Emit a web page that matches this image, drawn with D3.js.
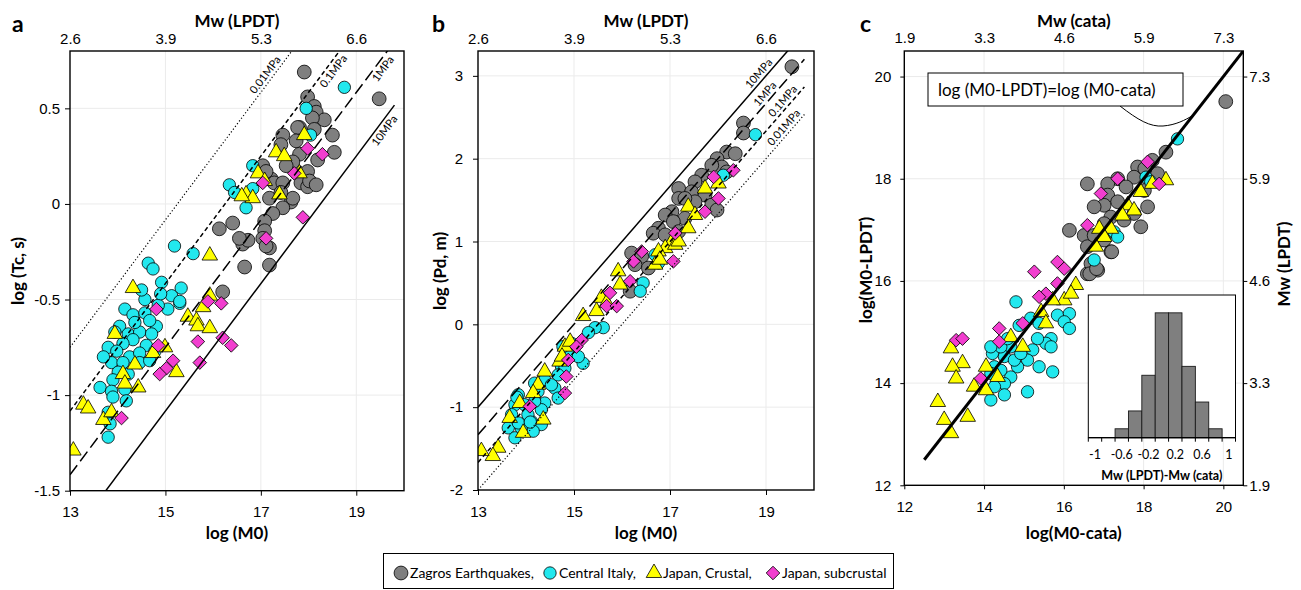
<!DOCTYPE html>
<html>
<head>
<meta charset="utf-8">
<script src="https://cdn.jsdelivr.net/npm/d3@7"></script>
<style>
  body { margin: 0; background: #fff; }
  svg { font-family: Lato, "Open Sans", sans-serif; }
  .tick text { font-size: 15px; fill: #000; }
  .tick line { stroke: #000; stroke-width: 1; }
  .grid { stroke: #ebebeb; stroke-width: 1; }
  .title { font-size: 17px; font-weight: bold; }
  .letter { font-size: 23px; font-weight: bold; }
  .stress { font-size: 11px; }
</style>
</head>
<body>
<div class="chart"></div>
<script>

// ---------------- values ----------------
var massTicks = [13, 15, 17, 19];
var mwTicksAB = ["2.6", "3.9", "5.3", "6.6"];
var tcTicks = [-1.5, -1, -0.5, 0, 0.5];
var pdTicks = [-2, -1, 0, 1, 2, 3];
var cTicks = [12, 14, 16, 18, 20];
var mwTicksC = ["1.9", "3.3", "4.6", "5.9", "7.3"];

// constant stress-drop lines, value at log M0 = 13
var stressLabels = ["0.01MPa", "0.1MPa", "1MPa", "10MPa"];
var tcIntercepts = [-0.75, -1.083, -1.417, -1.75];
var pdIntercepts = [-2, -1.667, -1.333, -1];

// panel a : log(M0) vs log(Tc)
var zagrosA = [[17.91,0.69],[19.48,0.55],[17.98,0.56],[18.12,0.51],[18.16,0.48],[18.33,0.44],[18.50,0.36],[18.08,0.45],[17.81,0.40],[18.12,0.39],[17.77,0.40],[17.46,0.36],[17.42,0.31],[17.74,0.33],[18.54,0.27],[18.19,0.23],[17.81,0.26],[17.67,0.22],[17.53,0.20],[17.98,0.17],[17.84,0.11],[17.98,0.09],[18.02,0.12],[18.16,0.10],[17.63,0.01],[17.67,0.03],[17.46,-0.02],[17.25,-0.05],[17.08,-0.09],[17.08,-0.14],[17.18,0.03],[17.22,0.13],[17.28,0.11],[17.46,0.11],[17.42,0.06],[17.04,0.20],[17.11,0.17],[17.04,-0.18],[17.18,-0.23],[17.11,-0.22],[17.18,-0.32],[16.66,-0.33],[16.62,-0.21],[16.73,-0.19],[16.55,-0.18],[16.41,-0.10],[16.13,-0.13],[16.20,-0.46]];
var italyA = [[18.75,0.61],[17.95,0.50],[18.04,0.36],[16.83,0.20],[16.34,0.10],[16.45,0.06],[16.69,-0.02],[16.83,0.08],[15.58,-0.26],[15.19,-0.22],[14.64,-0.31],[14.74,-0.34],[14.92,-0.41],[15.33,-0.44],[15.13,-0.48],[15.30,-0.52],[15.05,-0.55],[14.85,-0.53],[14.57,-0.50],[14.15,-0.55],[14.32,-0.58],[14.57,-0.57],[14.81,-0.64],[14.67,-0.61],[14.04,-0.64],[13.94,-0.67],[14.22,-0.68],[14.46,-0.67],[14.71,-0.68],[14.32,-0.71],[14.11,-0.73],[14.60,-0.74],[13.80,-0.75],[13.98,-0.77],[14.25,-0.80],[14.46,-0.78],[14.78,-0.77],[13.87,-0.83],[14.11,-0.83],[14.46,-0.83],[14.67,-0.82],[14.01,-0.88],[14.22,-0.89],[13.90,-0.92],[13.63,-0.96],[13.87,-0.98],[14.15,-0.97],[13.90,-1.01],[14.18,-1.03],[13.80,-1.09],[13.84,-1.15],[13.80,-1.22],[15.30,-0.51],[14.36,-0.62],[14.50,-0.45],[14.90,-0.47],[13.70,-0.80]];
var crustalA = [[17.91,0.36],[17.32,0.27],[17.49,0.25],[16.94,0.16],[17.08,0.12],[16.69,0.05],[16.83,0.03],[16.60,0.04],[17.39,0.05],[17.81,0.16],[15.93,-0.27],[14.32,-0.44],[15.93,-0.48],[15.47,-0.59],[15.65,-0.61],[15.68,-0.64],[15.93,-0.65],[15.79,-0.54],[13.94,-0.68],[14.99,-0.75],[14.74,-0.78],[14.36,-0.84],[14.11,-0.89],[14.15,-0.94],[14.43,-0.96],[15.23,-0.88],[13.28,-1.05],[13.38,-1.07],[13.70,-1.13],[13.87,-1.09],[13.07,-1.29]];
var subcrustalA = [[17.98,0.29],[18.29,0.26],[17.70,0.16],[17.04,0.11],[17.88,-0.07],[17.11,-0.18],[15.89,-0.51],[16.17,-0.52],[14.81,-0.55],[14.85,-0.74],[15.68,-0.72],[16.20,-0.70],[16.38,-0.74],[15.72,-0.83],[15.16,-0.82],[15.02,-0.86],[14.88,-0.89],[14.08,-1.12]];

// panel b : log(M0) vs log(Pd)
var zagrosB = [[19.54,3.11],[18.53,2.43],[18.53,2.31],[18.18,2.08],[18.36,2.06],[17.98,2.00],[18.08,1.90],[17.87,1.92],[17.66,1.80],[18.18,1.84],[17.52,1.72],[17.18,1.64],[17.45,1.60],[17.73,1.56],[17.87,1.44],[17.98,1.38],[17.52,1.48],[17.18,1.52],[17.31,1.52],[17.04,1.36],[16.90,1.32],[17.31,1.28],[17.07,1.24],[16.76,1.16],[16.65,1.10],[16.90,1.08],[17.18,1.12],[16.20,0.86],[16.41,0.82],[16.27,0.72],[16.55,0.68],[16.17,0.40]];
var italyB = [[18.78,2.29],[18.11,1.80],[16.69,0.84],[16.76,0.74],[16.44,0.50],[16.38,0.40],[15.61,-0.04],[15.44,-0.04],[15.30,-0.10],[15.19,-0.47],[14.95,-0.23],[14.88,-0.35],[14.74,-0.51],[14.77,-0.27],[15.09,-0.39],[14.39,-0.67],[14.18,-0.71],[14.25,-0.81],[14.60,-0.77],[14.67,-0.89],[13.84,-0.85],[13.77,-0.97],[13.97,-0.97],[14.39,-0.95],[13.70,-1.09],[13.63,-1.25],[13.77,-1.37],[13.90,-1.25],[14.11,-1.17],[14.32,-1.21],[14.04,-1.09],[14.53,-0.73],[14.81,-0.53],[14.67,-0.61],[14.32,-1.03],[14.15,-1.29],[13.84,-1.19],[14.18,-0.93],[13.81,-0.88],[14.09,-1.18]];
var crustalB = [[17.73,1.64],[17.38,1.42],[17.52,1.32],[18.01,1.70],[17.38,1.16],[17.04,1.00],[16.90,0.92],[16.76,0.88],[16.69,0.72],[16.79,0.78],[17.11,0.96],[17.18,1.00],[15.92,0.64],[15.96,0.48],[15.57,0.32],[15.47,0.16],[15.19,0.10],[15.68,0.26],[14.81,-0.27],[14.70,-0.45],[14.39,-0.57],[14.25,-0.73],[14.15,-0.83],[13.87,-0.95],[13.66,-1.13],[14.36,-1.15],[13.94,-1.31],[13.42,-1.49],[13.31,-1.59],[13.07,-1.53],[14.92,-0.21],[14.75,-0.39]];
var subcrustalB = [[18.32,1.86],[17.91,1.78],[18.01,1.52],[17.73,1.36],[17.11,1.10],[17.07,0.76],[16.41,0.88],[16.24,0.76],[16.17,0.52],[15.75,0.38],[15.68,0.22],[15.89,0.22],[15.16,-0.19],[15.05,-0.27],[14.88,-0.43],[14.84,-0.63],[14.81,-0.83],[14.08,-0.99]];

// panel c : log(M0-cata) vs log(M0-LPDT)
var zagrosC = [[18.56,18.52],[18.22,18.36],[17.85,18.23],[18.10,18.17],[18.35,18.10],[17.76,18.03],[17.35,18.00],[16.59,17.90],[17.10,17.90],[17.56,17.84],[18.02,17.77],[17.10,17.68],[17.35,17.55],[17.01,17.48],[16.76,17.45],[18.10,17.45],[17.76,17.32],[17.93,17.06],[17.51,17.19],[17.18,17.25],[16.14,16.99],[16.51,16.89],[16.59,16.67],[17.01,16.80],[17.18,16.57],[16.59,16.14],[16.85,16.21],[16.68,16.34],[17.01,17.12],[16.76,16.89],[20.06,19.51],[18.03,18.20],[16.65,16.14],[16.82,16.24],[17.20,16.57]];
var italyC = [[18.85,18.78],[18.06,18.03],[18.18,17.94],[17.26,16.96],[17.35,16.86],[16.76,16.41],[14.80,15.59],[15.17,15.27],[15.38,15.17],[15.84,15.33],[16.14,15.36],[16.01,15.20],[16.14,15.07],[15.68,14.87],[15.55,14.78],[15.68,14.71],[15.34,14.87],[15.22,14.65],[15.09,14.45],[15.38,14.32],[15.72,14.22],[14.84,14.32],[14.67,14.12],[14.51,13.99],[14.26,13.93],[14.17,13.67],[14.51,13.77],[15.09,13.83],[14.21,14.58],[14.26,14.32],[14.51,14.52],[14.76,14.45],[14.92,14.58],[14.67,14.71],[14.42,14.71],[14.17,14.71],[14.42,14.25],[14.59,14.87],[14.88,15.13],[14.17,14.19]];
var crustalC = [[18.56,17.97],[18.22,17.90],[17.93,17.74],[17.60,17.48],[17.76,17.38],[17.47,17.28],[17.18,17.02],[16.89,17.02],[17.01,16.86],[16.80,16.67],[16.30,15.92],[16.01,15.62],[15.72,15.62],[15.43,15.39],[15.55,15.17],[14.97,14.71],[14.67,14.90],[14.05,14.32],[14.34,14.12],[13.75,13.93],[14.05,13.86],[13.17,14.68],[13.46,14.39],[13.21,14.32],[13.30,14.09],[12.84,13.63],[13.00,13.28],[13.59,13.34],[13.17,13.02],[16.18,15.75]];
var subcrustalC = [[18.10,18.33],[17.35,18.00],[18.39,17.90],[16.93,17.71],[16.59,17.09],[15.26,16.18],[15.84,16.37],[16.01,16.24],[15.84,15.95],[15.55,15.75],[15.38,15.69],[14.97,15.17],[14.38,15.07],[14.38,14.81],[13.30,14.84],[13.46,14.87],[13.92,14.09]];

// inset histogram of Mw(LPDT) - Mw(cata)
var histBins = ["-1", "-0.8", "-0.6", "-0.4", "-0.2", "0", "0.2", "0.4", "0.6", "0.8", "1"];
var histCounts = [0, 0, 1, 3, 7, 14, 14, 8, 4, 1, 0];

var seriesNames = ["Zagros Earthquakes,", "Central Italy,", "Japan, Crustal,", "Japan, subcrustal"];

// ---------------- styles ----------------
var seriesStyle = [
  { symbol: d3.symbolCircle, size: 150, fill: "#7f7f7f", rotate: 0 },
  { symbol: d3.symbolCircle, size: 120, fill: "#22e8ee", rotate: 0 },
  { symbol: d3.symbolTriangle, size: 105, fill: "#ffff00", rotate: 0 },
  { symbol: d3.symbolSquare, size: 92, fill: "#f23ecf", rotate: 45 }
];
var stressDash = ["1.2,2.2", "4.5,3", "12,5", null];

var svg = d3.select(".chart").append("svg")
  .attr("width", 1301)
  .attr("height", 590);

// draws the four marker series in the given scales
function plotSeries(g, series, x, y) {
  series.forEach(function(data, i) {
    var st = seriesStyle[i];
    g.append("g").selectAll("path")
      .data(data)
      .enter()
      .append("path")
      .attr("d", d3.symbol(st.symbol, st.size))
      .attr("transform", d => `translate(${x(d[0])},${y(d[1])}) rotate(${st.rotate})`)
      .attr("fill", st.fill)
      .attr("stroke", "#000")
      .attr("stroke-width", 0.8);
  });
}

function addGrid(g, x, y, xs, ys, box) {
  g.append("g").selectAll("line").data(xs).enter().append("line")
    .attr("class", "grid")
    .attr("x1", d => x(d)).attr("x2", d => x(d))
    .attr("y1", box.top).attr("y2", box.bottom);
  g.append("g").selectAll("line").data(ys).enter().append("line")
    .attr("class", "grid")
    .attr("x1", box.left).attr("x2", box.right)
    .attr("y1", d => y(d)).attr("y2", d => y(d));
}

function addClip(id, box) {
  svg.append("clipPath").attr("id", id)
    .append("rect")
    .attr("x", box.left).attr("y", box.top)
    .attr("width", box.right - box.left).attr("height", box.bottom - box.top);
}

// panels a and b share the same layout
function drawStressPanel(p) {
  var box = p.box;
  var x = d3.scaleLinear().domain([13, 20]).range([box.left, box.right]);
  var y = d3.scaleLinear().domain(p.yDomain).range([box.bottom, box.top]);
  var g = svg.append("g");

  addGrid(g, x, y, [15, 17, 19], p.yTicks.slice(1), box);

  // bottom axis
  g.append("g")
    .attr("transform", `translate(0, ${box.bottom})`)
    .call(d3.axisBottom(x).tickValues(massTicks).tickSize(5).tickPadding(11).tickFormat(d3.format("d")))
    .call(a => a.select(".domain").remove());

  // left axis
  g.append("g")
    .attr("transform", `translate(${box.left}, 0)`)
    .call(d3.axisLeft(y).tickValues(p.yTicks).tickSize(5).tickPadding(p.yPad).tickFormat(d => d))
    .call(a => a.select(".domain").remove());

  // top axis (Mw)
  g.append("g")
    .attr("transform", `translate(0, ${box.top})`)
    .call(d3.axisTop(x).tickValues(massTicks).tickSize(0).tickPadding(7).tickFormat((d, i) => mwTicksAB[i]))
    .call(a => a.select(".domain").remove());

  addClip(p.id, box);
  var inner = g.append("g").attr("clip-path", `url(#${p.id})`);
  plotSeries(inner, p.series, x, y);

  // stress drop lines
  var lineGen = d3.line().x(d => x(d[0])).y(d => y(d[1]));
  p.intercepts.forEach(function(b, i) {
    var pts = [[13, b], [19.8, b + p.slope * (19.8 - 13)]];
    inner.append("path")
      .attr("d", lineGen(pts))
      .attr("fill", "none")
      .attr("stroke", "#000")
      .attr("stroke-width", i === 0 ? 1.2 : 1.5)
      .attr("stroke-dasharray", stressDash[i]);

    var lx = p.labelX[i];
    var ly = b + p.slope * (lx - 13);
    var ang = Math.atan2(y(ly + p.slope) - y(ly), x(lx + 1) - x(lx)) * 180 / Math.PI;
    g.append("text")
      .attr("class", "stress")
      .attr("transform", `translate(${x(lx)}, ${y(ly)}) rotate(${ang})`)
      .attr("text-anchor", "middle")
      .attr("dy", p.labelSide[i] === "above" ? "-0.3em" : "1em")
      .text(stressLabels[i]);
  });

  // frame
  g.append("rect")
    .attr("x", box.left).attr("y", box.top)
    .attr("width", box.right - box.left).attr("height", box.bottom - box.top)
    .attr("fill", "none").attr("stroke", "#000").attr("stroke-width", 1.4);

  var cx = (box.left + box.right) / 2;
  g.append("text").attr("class", "title").attr("x", cx).attr("y", 27)
    .attr("text-anchor", "middle").text("Mw (LPDT)");
  g.append("text").attr("class", "title").attr("x", cx).attr("y", 539)
    .attr("text-anchor", "middle").text("log (M0)");
  g.append("text").attr("class", "title")
    .attr("transform", `translate(${p.yTitleX}, 271) rotate(-90)`)
    .attr("text-anchor", "middle").text(p.yTitle);
  g.append("text").attr("class", "letter").attr("x", p.letterX).attr("y", 32).text(p.letter);
}

drawStressPanel({
  id: "clipA",
  box: { left: 70, right: 404, top: 51, bottom: 490.7 },
  yDomain: [-1.5, 0.8],
  yTicks: tcTicks,
  yPad: 5,
  slope: 1 / 3,
  intercepts: tcIntercepts,
  labelX: [17.21, 18.4, 19.44, 19.47],
  labelSide: ["above", "below", "below", "below"],
  series: [zagrosA, italyA, crustalA, subcrustalA],
  yTitle: "log (Tc, s)",
  yTitleX: 24,
  letter: "a",
  letterX: 12
});

drawStressPanel({
  id: "clipB",
  box: { left: 478, right: 814, top: 51, bottom: 490 },
  yDomain: [-2, 3.3],
  yTicks: pdTicks,
  yPad: 10,
  slope: 2 / 3,
  intercepts: pdIntercepts,
  labelX: [19.48, 19.46, 19.09, 18.96],
  labelSide: ["above", "above", "above", "above"],
  series: [zagrosB, italyB, crustalB, subcrustalB],
  yTitle: "log (Pd, m)",
  yTitleX: 446,
  letter: "b",
  letterX: 432
});

// ---------------- panel c ----------------
(function() {
  var box = { left: 904.3, right: 1243.3, top: 51, bottom: 485.3 };
  var x = d3.scaleLinear().domain([12, 20.5]).range([box.left, box.right]);
  var y = d3.scaleLinear().domain([12, 20.5]).range([box.bottom, box.top]);
  var g = svg.append("g");

  addGrid(g, x, y, cTicks.slice(1), cTicks.slice(1), box);

  g.append("g")
    .attr("transform", `translate(0, ${box.bottom})`)
    .call(d3.axisBottom(x).tickValues(cTicks).tickSize(4).tickPadding(12).tickFormat(d3.format("d")))
    .call(a => a.select(".domain").remove());
  g.append("g")
    .attr("transform", `translate(${box.left}, 0)`)
    .call(d3.axisLeft(y).tickValues(cTicks).tickSize(4).tickPadding(9).tickFormat(d3.format("d")))
    .call(a => a.select(".domain").remove());
  g.append("g")
    .attr("transform", `translate(${box.right}, 0)`)
    .call(d3.axisRight(y).tickValues(cTicks).tickSize(4).tickPadding(2).tickFormat((d, i) => mwTicksC[i]))
    .call(a => a.select(".domain").remove());
  g.append("g")
    .attr("transform", `translate(0, ${box.top})`)
    .call(d3.axisTop(x).tickValues(cTicks).tickSize(0).tickPadding(8).tickFormat((d, i) => mwTicksC[i]))
    .call(a => a.select(".domain").remove());

  addClip("clipC", box);
  var inner = g.append("g").attr("clip-path", "url(#clipC)");
  plotSeries(inner, [zagrosC, italyC, crustalC, subcrustalC], x, y);

  // 1:1 line
  inner.append("path")
    .attr("d", d3.line().x(d => x(d)).y(d => y(d))([12.5, 20.5]))
    .attr("stroke", "#000").attr("stroke-width", 3).attr("fill", "none");

  // callout
  var tip = 19.24;
  g.append("path")
    .attr("d", `M1120,106 C1138,120 1150,127 1163,126 C1176,125 1185,120 ${x(tip)},${y(tip)}`)
    .attr("fill", "none").attr("stroke", "#000").attr("stroke-width", 1);
  g.append("rect")
    .attr("x", 928).attr("y", 73).attr("width", 255).attr("height", 33)
    .attr("fill", "#fff").attr("stroke", "#000").attr("stroke-width", 1);
  g.append("text").attr("x", 938).attr("y", 96)
    .style("font-size", "17px")
    .text("log (M0-LPDT)=log (M0-cata)");

  g.append("rect")
    .attr("x", box.left).attr("y", box.top)
    .attr("width", box.right - box.left).attr("height", box.bottom - box.top)
    .attr("fill", "none").attr("stroke", "#000").attr("stroke-width", 1.4);

  // inset histogram
  var ib = { left: 1088.3, right: 1235.5, top: 295, bottom: 437.7 };
  var xh = d3.scaleBand().domain(histBins).range([ib.left, ib.right]).padding(0);
  var yh = d3.scaleLinear().domain([0, 16]).range([ib.bottom, ib.top]);
  g.append("rect")
    .attr("x", ib.left).attr("y", ib.top)
    .attr("width", ib.right - ib.left).attr("height", ib.bottom - ib.top)
    .attr("fill", "#fff").attr("stroke", "#000").attr("stroke-width", 1);
  g.append("g").selectAll("rect")
    .data(histBins.filter((b, i) => histCounts[i] > 0))
    .enter()
    .append("rect")
    .attr("x", d => xh(d))
    .attr("width", xh.bandwidth())
    .attr("y", d => yh(histCounts[histBins.indexOf(d)]))
    .attr("height", d => ib.bottom - yh(histCounts[histBins.indexOf(d)]))
    .attr("fill", "#7f7f7f").attr("stroke", "#1a1a1a").attr("stroke-width", 0.9);
  g.append("line")
    .attr("x1", ib.left).attr("x2", ib.right)
    .attr("y1", ib.bottom).attr("y2", ib.bottom)
    .attr("stroke", "#000").attr("stroke-width", 1.2);
  g.append("g").selectAll("line")
    .data(histBins.concat(["end"]))
    .enter()
    .append("line")
    .attr("x1", d => d === "end" ? ib.right : xh(d))
    .attr("x2", d => d === "end" ? ib.right : xh(d))
    .attr("y1", ib.bottom).attr("y2", ib.bottom + 4)
    .attr("stroke", "#000");
  g.append("g").selectAll("text")
    .data(histBins.filter((b, i) => i % 2 === 0))
    .enter()
    .append("text")
    .attr("x", d => xh(d) + xh.bandwidth() / 2)
    .attr("y", 459)
    .attr("text-anchor", "middle")
    .style("font-size", "12.5px")
    .text(d => d);
  g.append("text")
    .attr("x", (ib.left + ib.right) / 2).attr("y", 480)
    .attr("text-anchor", "middle")
    .style("font-size", "12.5px").style("font-weight", "bold")
    .text("Mw (LPDT)-Mw (cata)");

  var cx = (box.left + box.right) / 2;
  g.append("text").attr("class", "title").attr("x", cx).attr("y", 27)
    .attr("text-anchor", "middle").text("Mw (cata)");
  g.append("text").attr("class", "title").attr("x", cx).attr("y", 539)
    .attr("text-anchor", "middle").text("log(M0-cata)");
  g.append("text").attr("class", "title")
    .attr("transform", "translate(872, 270) rotate(-90)")
    .attr("text-anchor", "middle").text("log(M0-LPDT)");
  g.append("text").attr("class", "title")
    .attr("transform", "translate(1290, 264) rotate(-90)")
    .attr("text-anchor", "middle").text("Mw (LPDT)");
  g.append("text").attr("class", "letter").attr("x", 860).attr("y", 32).text("c");
})();

// ---------------- legend ----------------
var legend = svg.append("g");
legend.append("rect")
  .attr("x", 383.5).attr("y", 553.5).attr("width", 510).attr("height", 35)
  .attr("fill", "#fff").attr("stroke", "#000").attr("stroke-width", 1);
var legendX = [401, 550, 654, 773];
seriesNames.forEach(function(name, i) {
  var st = seriesStyle[i];
  legend.append("path")
    .attr("d", d3.symbol(st.symbol, st.size))
    .attr("transform", `translate(${legendX[i]}, 573) rotate(${st.rotate})`)
    .attr("fill", st.fill).attr("stroke", "#000").attr("stroke-width", 0.8);
  legend.append("text")
    .attr("x", legendX[i] + 9).attr("y", 578)
    .style("font-size", "14px")
    .text(name);
});

</script>
</body>
</html>
